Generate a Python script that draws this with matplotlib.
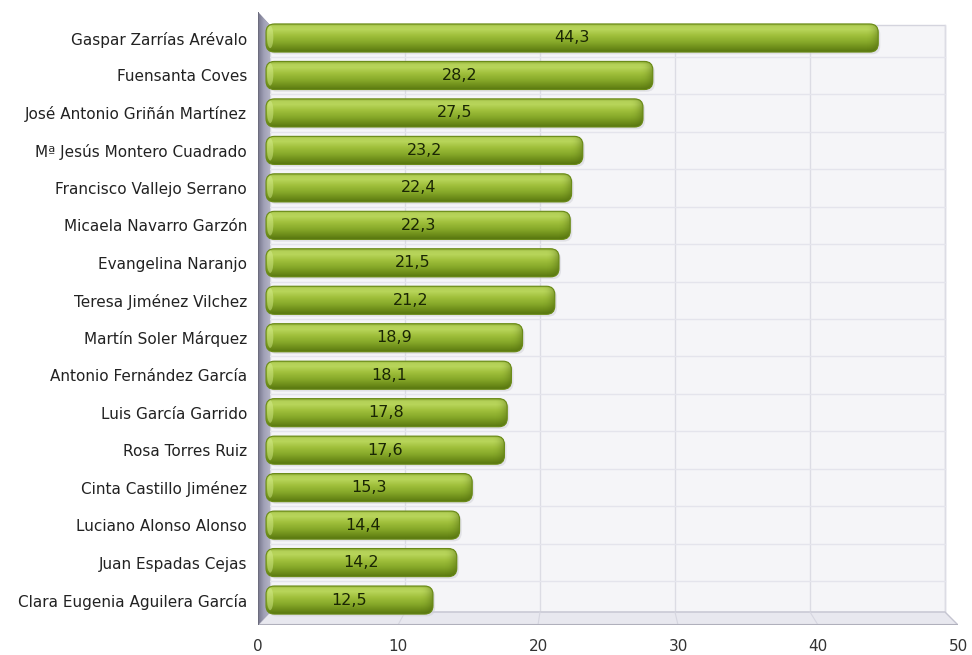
import numpy as np
import matplotlib
matplotlib.use("Agg")
import matplotlib.pyplot as plt
from matplotlib.patches import FancyBboxPatch, Polygon, Ellipse
from matplotlib.colors import LinearSegmentedColormap

names = [
    "Gaspar Zarrías Arévalo",
    "Fuensanta Coves",
    "José Antonio Griñán Martínez",
    "Mª Jesús Montero Cuadrado",
    "Francisco Vallejo Serrano",
    "Micaela Navarro Garzón",
    "Evangelina Naranjo",
    "Teresa Jiménez Vilchez",
    "Martín Soler Márquez",
    "Antonio Fernández García",
    "Luis García Garrido",
    "Rosa Torres Ruiz",
    "Cinta Castillo Jiménez",
    "Luciano Alonso Alonso",
    "Juan Espadas Cejas",
    "Clara Eugenia Aguilera García",
]
values = [44.3, 28.2, 27.5, 23.2, 22.4, 22.3, 21.5, 21.2,
          18.9, 18.1, 17.8, 17.6, 15.3, 14.4, 14.2, 12.5]
xticks = [0, 10, 20, 30, 40, 50]

W, H, DPI = 972, 655, 100
fig = plt.figure(figsize=(W / DPI, H / DPI), dpi=DPI)
fig.patch.set_facecolor("white")

# front plane of the 3D frame in pixels
X0_PX, X50_PX = 258, 958
TOP_PX, BOT_PX = 12, 625
ROW0_PX, ROW_STEP = 38, 37.47
PX_PER_X = (X50_PX - X0_PX) / 50.0

def dx(px):
    return (px - X0_PX) / PX_PER_X

def dy(py):
    return (len(values) - 1) - (py - ROW0_PX) / ROW_STEP

ax = fig.add_axes([X0_PX / W, (H - BOT_PX) / H,
                   (X50_PX - X0_PX) / W, (BOT_PX - TOP_PX) / H])
ax.set_xlim(0, 50)
ax.set_ylim(dy(BOT_PX), dy(TOP_PX))
for s in ax.spines.values():
    s.set_visible(False)
ax.set_facecolor("none")

n = len(values)
ypos = np.arange(n)[::-1].astype(float)

# back wall
wl, wr = dx(270), dx(945)
wt, wb = dy(25), dy(612)
ax.add_patch(Polygon([(wl, wb), (wl, wt), (wr, wt), (wr, wb)], closed=True,
                     facecolor="#f5f5f8", edgecolor="#d4d4de", lw=1.0, zorder=0))

def back_x(v):
    return wl + v * (wr - wl) / 50.0

for v in xticks[1:]:
    bx = back_x(v)
    ax.plot([bx, bx], [wb, wt], color="#dcdce4", lw=1.0, zorder=0.5)
for k in range(n + 1):
    yy = (n - 1) - k + 0.5
    if wb < yy < wt:
        ax.plot([wl, wr], [yy, yy], color="#e4e4ec", lw=1.0, zorder=0.5)

# floor
fb = dy(BOT_PX)
ax.add_patch(Polygon([(0, fb), (wl, wb), (wr, wb), (50, fb)], closed=True,
                     facecolor="#e8e8ef", edgecolor="#c4c4d0", lw=1.0, zorder=0.6))
for v in xticks[1:-1]:
    ax.plot([back_x(v), v], [wb, fb], color="#d6d6e0", lw=0.8, zorder=0.7)
ax.plot([0, 50], [fb, fb], color="#b0b0bc", lw=1.5, zorder=0.8)

# left side wall with shading
lw_top_front, lw_top_back = dy(TOP_PX), wt
wall = Polygon([(0, lw_top_front), (wl, lw_top_back), (wl, wb), (0, fb)],
               closed=True, facecolor="#9a9aac", edgecolor="none", zorder=0.9)
ax.add_patch(wall)
grad_w = np.linspace(0, 1, 50).reshape(1, -1)
wall_cmap = LinearSegmentedColormap.from_list("wall", ["#74748a", "#a0a0b6", "#b4b4c6"])
im = ax.imshow(grad_w, extent=(0, wl, fb, lw_top_front), aspect="auto",
               cmap=wall_cmap, zorder=0.95, interpolation="bilinear")
im.set_clip_path(wall)
ax.plot([0, 0], [fb, lw_top_front], color="#6a6a7a", lw=1.2, zorder=1)

# cylindrical bars
bar_cmap = LinearSegmentedColormap.from_list(
    "bar", [(0.0, "#587610"), (0.12, "#6a8a18"), (0.35, "#88aa2a"),
            (0.58, "#a0c03c"), (0.78, "#b8d55a"), (0.9, "#b4d058"),
            (1.0, "#84a22a")])
grad = np.linspace(0, 1, 64).reshape(-1, 1)[::-1]
end_shade = np.zeros((1, 64, 4))
end_shade[..., :3] = np.array([0.28, 0.38, 0.05])
end_shade[..., 3] = np.linspace(0, 1, 64) ** 2 * 0.45
bh = 0.75
x_start = dx(266)
aspect = PX_PER_X / ROW_STEP
box = "round,pad=0,rounding_size=0.6"
for y, v in zip(ypos, values):
    sh = FancyBboxPatch((x_start + 0.15, y - bh / 2 - 0.06), v - x_start, bh,
                        boxstyle=box, mutation_aspect=aspect,
                        facecolor="#cfcfd6", edgecolor="none", alpha=0.5,
                        zorder=1.5)
    ax.add_patch(sh)
    patch = FancyBboxPatch((x_start, y - bh / 2), v - x_start, bh,
                           boxstyle=box, mutation_aspect=aspect,
                           facecolor="#9cc235", edgecolor="none", zorder=2)
    ax.add_patch(patch)
    img = ax.imshow(grad, extent=(x_start, v, y - bh / 2, y + bh / 2),
                    aspect="auto", cmap=bar_cmap, zorder=2.1,
                    interpolation="bilinear")
    img.set_clip_path(patch)
    rim = ax.imshow(end_shade, extent=(v - 0.9, v, y - bh / 2, y + bh / 2),
                    aspect="auto", zorder=2.15, interpolation="bilinear")
    rim.set_clip_path(patch)
    cap = Ellipse((x_start + 0.3, y + 0.03), 0.45, bh * 0.8,
                  facecolor="#d8ee94", edgecolor="none", alpha=0.45,
                  zorder=2.2)
    ax.add_patch(cap)
    cap.set_clip_path(patch)
    ax.add_patch(FancyBboxPatch((x_start, y - bh / 2), v - x_start, bh,
                                boxstyle=box, mutation_aspect=aspect,
                                facecolor="none", edgecolor="#6a8a18",
                                lw=0.8, zorder=2.3))
    ax.text((x_start + v) / 2, y, f"{v:.1f}".replace(".", ","),
            ha="center", va="center", fontsize=11.5, color="#1a2604", zorder=3)

ax.set_yticks(ypos)
ax.set_yticklabels(names, fontsize=11, color="#222222")
ax.set_xticks(xticks)
ax.set_xticklabels([str(t) for t in xticks], fontsize=11, color="#333333")
ax.tick_params(axis="both", length=0)
ax.tick_params(axis="y", pad=8)
ax.tick_params(axis="x", pad=10)
ax.set_xlim(0, 50)
ax.set_ylim(dy(BOT_PX), dy(TOP_PX))

fig.savefig("out.png", dpi=DPI, facecolor="white")
